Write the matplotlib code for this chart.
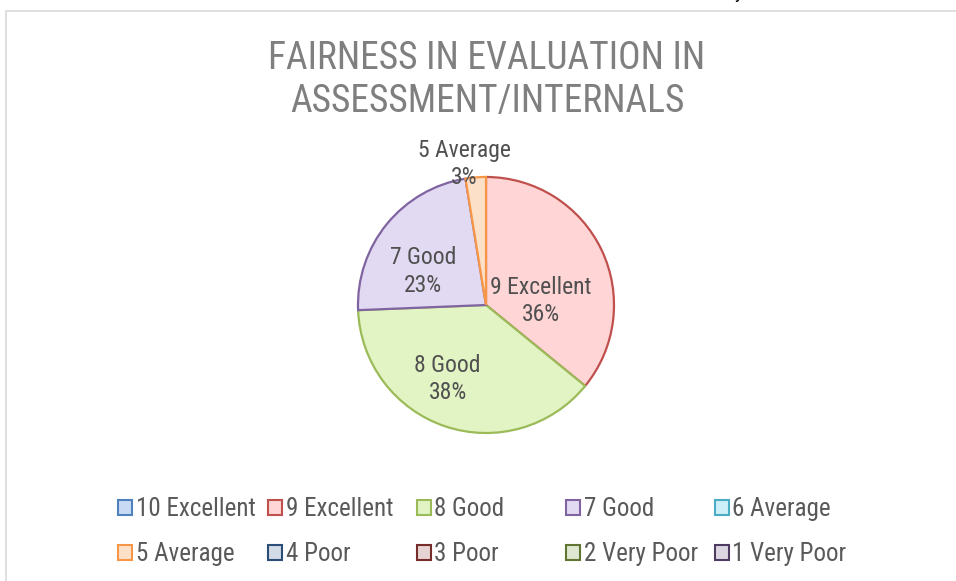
import matplotlib
matplotlib.use("Agg")
import matplotlib.pyplot as plt
from matplotlib.patches import Patch, Rectangle
from matplotlib import font_manager as fm

# ---------------- data ----------------
categories = ["10 Excellent", "9 Excellent", "8 Good", "7 Good", "6 Average",
              "5 Average", "4 Poor", "3 Poor", "2 Very Poor", "1 Very Poor"]
counts = [0, 14, 15, 9, 0, 1, 0, 0, 0, 0]
title_text = "FAIRNESS IN EVALUATION IN\nASSESSMENT/INTERNALS"

# ---------------- style ----------------
edge_colors = ["#4F81BD", "#C0504D", "#9BBB59", "#8064A2", "#4BACC6",
               "#F79646", "#2C4D75", "#772C2A", "#5F7530", "#4D3B62"]
fill_colors = ["#C9DAF5", "#FFD5D5", "#E2F4C4", "#E2DAF2", "#CDEFF8",
               "#FDE0C8", "#D3DBE6", "#E6D3D3", "#DFE6D1", "#DCD6E2"]

names = {f.name for f in fm.fontManager.ttflist}
font = "Lato"
for cand in ["Liberation Sans Narrow", "Roboto Condensed", "Open Sans Condensed",
             "DejaVu Sans Condensed", "Lato"]:
    if cand in names:
        font = cand
        break
plt.rcParams["font.family"] = [font, "DejaVu Sans"]

W, H = 956, 581
fx = lambda px: px / W
fy = lambda py: 1 - py / H

fig = plt.figure(figsize=(W / 100, H / 100), dpi=100)
fig.patch.set_facecolor("white")

# chart frame
fig.patches.append(Rectangle((fx(6), -0.1), 1.2, fy(11) + 0.1, transform=fig.transFigure,
                             fill=False, edgecolor="#D9D9D9", lw=1.2))
# cut-off glyph at the very top
fig.text(fx(739), 1 + 1.5 / H, "y", fontsize=14, color="black", ha="center", va="baseline")

# title
fig.text(fx(487), fy(80), title_text, ha="center", va="center", fontsize=27,
         color="#7F7F7F", linespacing=1.22)

# pie
cx, cy, r = 486, 305, 128
ax = fig.add_axes([fx(cx - r), fy(cy + r), 2 * r / W, 2 * r / H])
idx = [i for i, v in enumerate(counts) if v > 0]
vals = [counts[i] for i in idx]
wedges, _ = ax.pie(vals, startangle=90, counterclock=False,
                   colors=[fill_colors[i] for i in idx],
                   wedgeprops=dict(linewidth=1.6))
for w, i in zip(wedges, idx):
    w.set_edgecolor(edge_colors[i])
ax.set_xlim(-1, 1)
ax.set_ylim(-1, 1)
ax.set_aspect("equal")
ax.axis("off")

total = sum(vals)
label_pos = {1: (0.43, 0.03), 2: (-0.30, -0.58), 3: (-0.49, 0.26), 5: (-0.17, 1.10)}
for i in idx:
    pct = round(100 * counts[i] / total)
    x, y = label_pos[i]
    ax.text(x, y, f"{categories[i]}\n{pct}%", ha="center", va="center",
            fontsize=17, color="#505050", linespacing=1.25, clip_on=False)

# legend (two rows of five)
col_x = [118, 268, 417, 566, 715]
row_y = [509, 554]
for k, name in enumerate(categories):
    col, row = k % 5, k // 5
    h = Patch(facecolor=fill_colors[k], edgecolor=edge_colors[k], linewidth=1.5)
    fig.legend(handles=[h], labels=[name], loc="center left",
               bbox_to_anchor=(fx(col_x[col]), fy(row_y[row])),
               frameon=False, borderpad=0, borderaxespad=0,
               handlelength=0.55, handleheight=0.55, handletextpad=0.15,
               fontsize=18, labelcolor="#595959")

fig.savefig("out.png", dpi=100)
